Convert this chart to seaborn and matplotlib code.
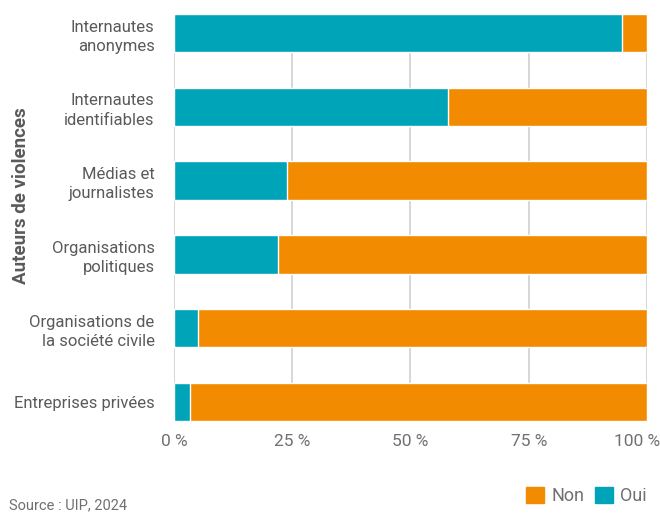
#!/usr/bin/env python3

import matplotlib
matplotlib.use("Agg")
import matplotlib.pyplot as plt
import matplotlib.patches as mpatches
import matplotlib.transforms as mtransforms
import pandas as pd
import seaborn as sns

# Auteurs de violences, part des "Oui" en %
auteurs = [
    "Internautes\nanonymes",
    "Internautes\nidentifiables",
    "Médias et\njournalistes",
    "Organisations\npolitiques",
    "Organisations de\nla société civile",
    "Entreprises privées",
]
oui = [94.7, 57.9, 23.9, 22.0, 5.0, 3.4]
non = [100 - v for v in oui]
xticks = [0, 25, 50, 75, 100]
xtick_labels = ["0 %", "25 %", "50 %", "75 %", "100 %"]

TEAL = "#00A4B8"
ORANGE = "#F28B00"
GREY = "#707070"


def main():
    sns.set_theme(style="white")
    plt.rcParams["font.family"] = ["Roboto", "DejaVu Sans"]

    df = pd.DataFrame({"auteur": auteurs, "oui": oui, "non": non})
    df["total"] = df["oui"] + df["non"]

    fig = plt.figure(figsize=(6.6, 5.15), dpi=100)
    ax = fig.add_axes([0.2636, 0.1825, 0.7167, 0.7903])

    for x in xticks:
        ax.axvline(x, color="#d0d0d0", lw=1.2, zorder=0)

    sns.barplot(data=df, x="total", y="auteur", color=ORANGE, orient="h",
                width=0.52, saturation=1, ax=ax, zorder=2)
    sns.barplot(data=df, x="oui", y="auteur", color=TEAL, orient="h",
                width=0.52, saturation=1, ax=ax, zorder=3)

    ax.set_xlim(0, 100)
    ax.set_ylim(5.26, -0.26)
    ax.set_xticks(xticks)
    ax.set_xticklabels(xtick_labels, fontsize=12.5, color=GREY)
    ax.tick_params(axis="y", labelsize=12, labelcolor="#5a5a5a", length=0, pad=14)
    ax.tick_params(axis="x", length=0, pad=9)
    # pull the last label inside the figure (after tick_params, which resets it)
    last = ax.get_xticklabels()[-1]
    last.set_transform(last.get_transform() + mtransforms.ScaledTranslation(
        -10 / 100, 0, fig.dpi_scale_trans))
    for lab in ax.get_yticklabels():
        lab.set_horizontalalignment("right")
        lab.set_multialignment("right")
        lab.set_linespacing(1.35)
    ax.set_xlabel("")
    ax.set_ylabel("Auteurs de violences", fontsize=13.5, fontweight="bold",
                  color="#5a5a5a")
    ax.yaxis.set_label_coords(-0.305, 0.553)
    for s in ax.spines.values():
        s.set_visible(False)

    fig.text(0.014, 0.005, "Source : UIP, 2024", fontsize=10.5, color=GREY,
             ha="left", va="bottom")
    handles = [mpatches.Patch(color=ORANGE, label="Non"),
               mpatches.Patch(color=TEAL, label="Oui")]
    fig.legend(handles=handles, loc="lower right", bbox_to_anchor=(1.005, -0.012),
               ncol=2, frameon=False, fontsize=13, handlelength=1.0,
               handleheight=1.0, handletextpad=0.4, columnspacing=0.6,
               labelcolor=GREY)

    fig.savefig("out.png", dpi=100)


if __name__ == "__main__":
    main()
